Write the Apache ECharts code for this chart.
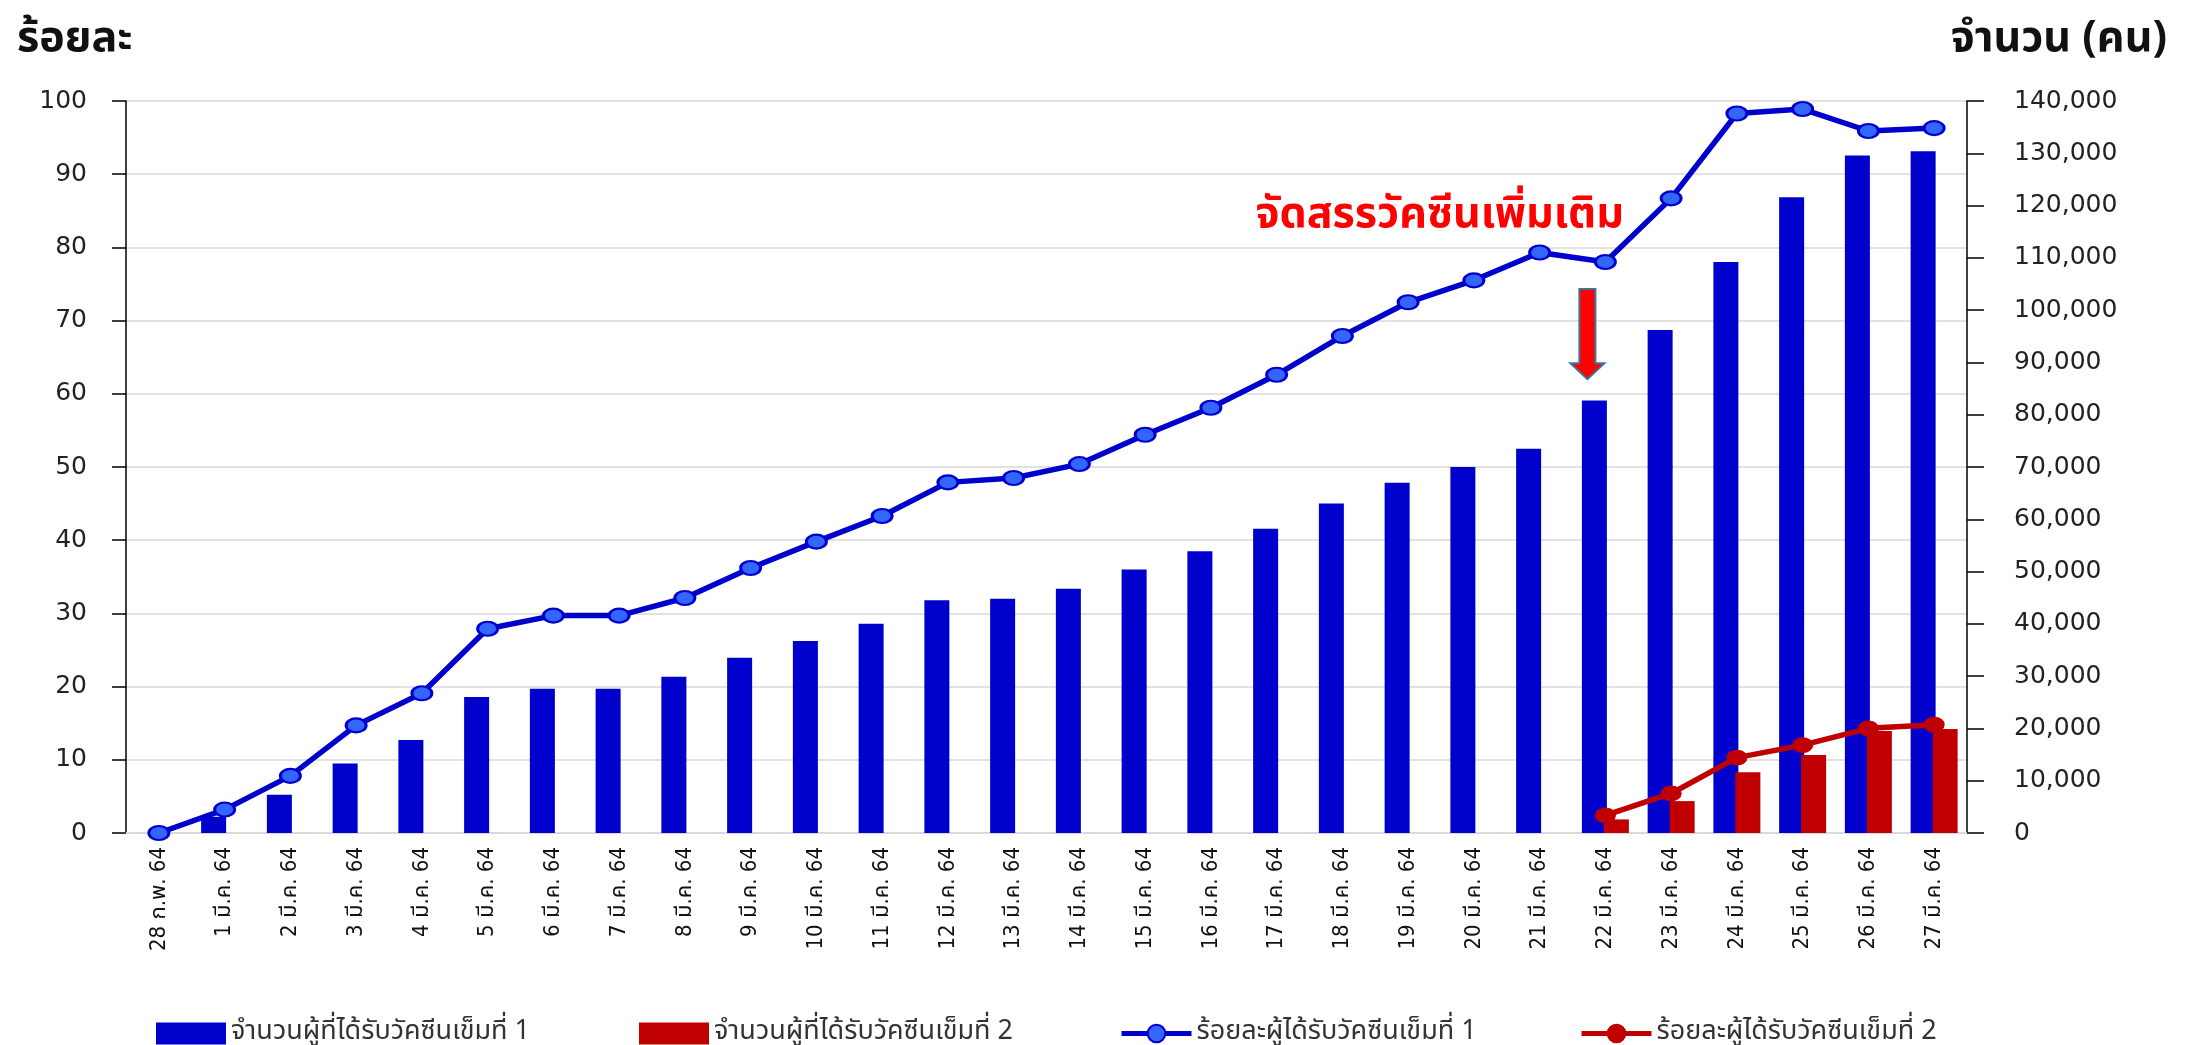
<!DOCTYPE html>
<html>
<head>
<meta charset="utf-8">
<script src="https://cdn.jsdelivr.net/npm/echarts@6/dist/echarts.min.js"></script>
<style>
html,body{margin:0;padding:0;background:#ffffff;}
#chart{width:2198px;height:1045px;}
</style>
</head>
<body>
<div id="chart"></div>
<script>
// ---------- data ----------
const categories = ['28 ก.พ. 64','1 มี.ค. 64','2 มี.ค. 64','3 มี.ค. 64','4 มี.ค. 64','5 มี.ค. 64','6 มี.ค. 64','7 มี.ค. 64','8 มี.ค. 64','9 มี.ค. 64','10 มี.ค. 64','11 มี.ค. 64','12 มี.ค. 64','13 มี.ค. 64','14 มี.ค. 64','15 มี.ค. 64','16 มี.ค. 64','17 มี.ค. 64','18 มี.ค. 64','19 มี.ค. 64','20 มี.ค. 64','21 มี.ค. 64','22 มี.ค. 64','23 มี.ค. 64','24 มี.ค. 64','25 มี.ค. 64','26 มี.ค. 64','27 มี.ค. 64'];
const dose1Count = [0,3100,7300,13300,17800,26000,27600,27600,29900,33500,36700,40000,44500,44800,46700,50400,53900,58200,63000,67000,70000,73500,82700,96200,109200,121600,129600,130400];
const dose2Count = [null,null,null,null,null,null,null,null,null,null,null,null,null,null,null,null,null,null,null,null,null,null,2600,6100,11600,14900,19500,19900];
const dose1Pct = [0,3.2,7.8,14.7,19.1,27.9,29.7,29.7,32.1,36.2,39.8,43.3,47.9,48.5,50.4,54.4,58.1,62.6,67.9,72.5,75.5,79.3,78.0,86.7,98.3,98.9,95.9,96.3];
const dose2Pct = [null,null,null,null,null,null,null,null,null,null,null,null,null,null,null,null,null,null,null,null,null,null,2.4,5.4,10.3,12.0,14.3,14.8];
const seriesNames = ['จำนวนผู้ที่ได้รับวัคซีนเข็มที่ 1','จำนวนผู้ที่ได้รับวัคซีนเข็มที่ 2','ร้อยละผู้ได้รับวัคซีนเข็มที่ 1','ร้อยละผู้ได้รับวัคซีนเข็มที่ 2'];
const leftAxisTitle = 'ร้อยละ';
const rightAxisTitle = 'จำนวน (คน)';
const annotationText = 'จัดสรรวัคซีนเพิ่มเติม';
const annotationIndex = 22;

// ---------- style ----------
const THAI = "'Noto Sans Thai','Noto Sans','DejaVu Sans',sans-serif";
const NUM = "'DejaVu Sans','Noto Sans',sans-serif";
const NARROW = "'Liberation Sans Narrow','DejaVu Sans Condensed','Noto Sans Thai',sans-serif";
const BLUE = '#0000CC', RED = '#C00000';

const chart = echarts.init(document.getElementById('chart'));

function legendFor(name, left, icon) {
  const item = icon ? {name: name, icon: icon} : {name: name};
  return {
    data: [item], left: left, top: 1015, orient: 'horizontal',
    itemWidth: 70, itemHeight: 22, itemGap: 0,
    lineStyle: {width: 5},
    textStyle: {fontFamily: THAI, fontSize: 27, color: '#333'},
    selectedMode: false
  };
}

chart.setOption({
  animation: false,
  backgroundColor: '#ffffff',
  title: [
    {text: leftAxisTitle, left: 12, top: 16, textStyle: {fontFamily: THAI, fontSize: 43, fontWeight: 'bold', color: '#111'}},
    {text: rightAxisTitle, right: 26, top: 16, textStyle: {fontFamily: THAI, fontSize: 43, fontWeight: 'bold', color: '#111'}}
  ],
  legend: [
    legendFor(seriesNames[0], 151, 'rect'),
    legendFor(seriesNames[1], 634, 'rect'),
    legendFor(seriesNames[2], 1114),
    legendFor(seriesNames[3], 1574)
  ],
  grid: {left: 126, right: 231, top: 101, bottom: 212, containLabel: false, outerBoundsMode: 'none'},
  xAxis: {
    type: 'category', data: categories, boundaryGap: true,
    axisLine: {show: true, lineStyle: {color: '#D9D9D9', width: 2}},
    axisTick: {show: false},
    axisLabel: {rotate: 90, margin: 14, interval: 0, fontFamily: NARROW, fontSize: 22, color: '#111'}
  },
  yAxis: [
    {
      type: 'value', min: 0, max: 100, interval: 10, position: 'left',
      axisLine: {show: true, lineStyle: {color: '#000', width: 1.5}},
      axisTick: {show: true, inside: false, length: 14, lineStyle: {color: '#000', width: 1.5}},
      axisLabel: {margin: 39, fontFamily: NUM, fontSize: 25, color: '#222'},
      splitLine: {show: true, lineStyle: {color: '#D9D9D9', width: 1.5}}
    },
    {
      type: 'value', min: 0, max: 140000, interval: 10000, position: 'right',
      axisLine: {show: true, lineStyle: {color: '#000', width: 1.5}},
      axisTick: {show: true, inside: false, length: 17, lineStyle: {color: '#000', width: 1.5}},
      axisLabel: {margin: 47, fontFamily: NUM, fontSize: 25, color: '#222',
        formatter: v => v.toLocaleString('en-US')},
      splitLine: {show: false}
    }
  ],
  series: [
    {name: seriesNames[0], type: 'bar', yAxisIndex: 1, data: dose1Count, barWidth: 25, barGap: '-12%',
      itemStyle: {color: BLUE}, z: 2},
    {name: seriesNames[1], type: 'bar', yAxisIndex: 1, data: dose2Count, barWidth: 25, barGap: '-12%',
      itemStyle: {color: RED}, z: 2},
    {name: seriesNames[2], type: 'line', yAxisIndex: 0, data: dose1Pct,
      lineStyle: {color: BLUE, width: 5.5}, symbol: 'circle', symbolSize: [20, 14], showAllSymbol: true,
      itemStyle: {color: '#3366FF', borderColor: BLUE, borderWidth: 2.5}, z: 5},
    {name: seriesNames[3], type: 'line', yAxisIndex: 0, data: dose2Pct, connectNulls: false,
      lineStyle: {color: RED, width: 5.5}, symbol: 'circle', symbolSize: [20, 15], showAllSymbol: true,
      itemStyle: {color: RED, borderColor: RED, borderWidth: 1}, z: 6}
  ]
});

// annotation (text + arrow) anchored to the category / value scale
const tipPt = chart.convertToPixel({xAxisIndex: 0, yAxisIndex: 0}, [annotationIndex, 62]);
const tailPt = chart.convertToPixel({xAxisIndex: 0, yAxisIndex: 0}, [annotationIndex, 74.3]);
const ax = tipPt[0] - 18, tipY = tipPt[1], tailY = tailPt[1];
const headY = tipY - 16;
chart.setOption({
  graphic: [
    {type: 'text', left: tipPt[0] - 350, top: 197, z: 20,
      style: {text: annotationText, fill: '#FF0000', font: "bold 43px " + THAI}},
    {type: 'polygon', z: 20,
      shape: {points: [[ax - 8, tailY], [ax + 8, tailY], [ax + 8, headY], [ax + 17, headY], [ax, tipY], [ax - 17, headY], [ax - 8, headY]]},
      style: {fill: '#FF0000', stroke: '#41719C', lineWidth: 2}}
  ]
});
</script>
</body>
</html>
